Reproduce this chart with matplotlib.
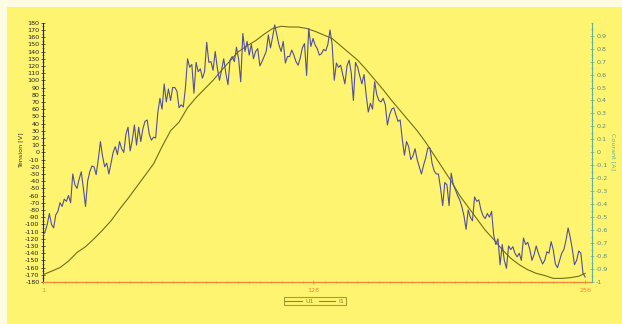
import numpy as np
import matplotlib
matplotlib.use("Agg")
import matplotlib.pyplot as plt
from matplotlib.patches import Rectangle
from matplotlib.ticker import MultipleLocator, FixedLocator
from matplotlib.lines import Line2D

# --- data -----------------------------------------------------------------
# U1 : voltage [V], sampled every 4th point (sample index -> volts)
u1_index = [1, 5, 9, 13, 17, 21, 25, 29, 33, 37, 41, 45, 49, 53, 57, 61,
            65, 69, 73, 77, 81, 85, 89, 93, 97, 101, 105, 109, 113, 117, 121,
            125, 129, 133, 137, 141, 145, 149, 153, 157, 161, 165, 169, 173,
            177, 181, 185, 189, 193, 197, 201, 205, 209, 213, 217, 221, 225,
            229, 233, 237, 241, 245, 249, 253, 256]
u1_volts = [-170, -165, -160, -151, -139, -131, -120, -108, -95, -79, -64,
            -48, -32, -16, 8, 30, 42, 62, 76, 88, 100, 114, 127, 140, 148,
            155, 164, 172, 175, 174, 174, 172, 168, 163, 158, 148, 138, 128,
            115, 101, 87, 72, 58, 44, 30, 14, -4, -22, -40, -60, -76, -92,
            -108, -121, -135, -147, -156, -163, -168, -171, -175, -175, -174,
            -172, -168]

# I1 : current [A], one value per sample 1..256
i1_amps = [
    -0.639, -0.611, -0.556, -0.472, -0.556, -0.583, -0.483, -0.456, -0.389, -0.417,
    -0.361, -0.378, -0.333, -0.389, -0.167, -0.250, -0.278, -0.206, -0.150, -0.278,
    -0.417, -0.222, -0.150, -0.106, -0.111, -0.172, -0.056, 0.083, -0.028, -0.111,
    -0.083, -0.167, -0.083, 0.000, 0.044, -0.017, 0.083, 0.028, 0.000, 0.139,
    0.194, 0.011, 0.094, 0.211, 0.056, 0.194, 0.083, 0.183, 0.239, 0.250,
    0.139, 0.094, 0.117, 0.111, 0.306, 0.417, 0.333, 0.528, 0.389, 0.489,
    0.400, 0.500, 0.500, 0.472, 0.344, 0.367, 0.350, 0.500, 0.722, 0.656,
    0.678, 0.456, 0.694, 0.622, 0.644, 0.572, 0.622, 0.850, 0.694, 0.700,
    0.633, 0.778, 0.650, 0.556, 0.633, 0.722, 0.611, 0.522, 0.711, 0.739,
    0.700, 0.811, 0.722, 0.544, 0.917, 0.778, 0.856, 0.750, 0.833, 0.722,
    0.778, 0.800, 0.667, 0.700, 0.739, 0.778, 0.906, 0.806, 0.889, 0.983,
    0.906, 0.828, 0.778, 0.856, 0.689, 0.739, 0.739, 0.789, 0.750, 0.700,
    0.672, 0.728, 0.806, 0.839, 0.594, 0.956, 0.817, 0.878, 0.828, 0.800,
    0.750, 0.761, 0.794, 0.783, 0.833, 0.944, 0.833, 0.556, 0.689, 0.656,
    0.672, 0.600, 0.528, 0.667, 0.711, 0.611, 0.400, 0.694, 0.656, 0.589,
    0.528, 0.600, 0.444, 0.311, 0.378, 0.333, 0.544, 0.444, 0.400, 0.389,
    0.417, 0.367, 0.211, 0.289, 0.333, 0.344, 0.289, 0.239, 0.250, 0.100,
    -0.022, 0.083, 0.044, -0.056, -0.028, 0.028, -0.056, -0.111, -0.167, -0.100,
    -0.044, 0.033, 0.033, -0.083, -0.144, -0.167, -0.167, -0.278, -0.411, -0.233,
    -0.250, -0.411, -0.161, -0.250, -0.289, -0.333, -0.367, -0.417, -0.489, -0.594,
    -0.444, -0.500, -0.528, -0.344, -0.378, -0.367, -0.444, -0.489, -0.511, -0.472,
    -0.500, -0.456, -0.639, -0.711, -0.667, -0.867, -0.711, -0.833, -0.894, -0.722,
    -0.750, -0.728, -0.778, -0.806, -0.778, -0.833, -0.661, -0.711, -0.694, -0.750,
    -0.833, -0.789, -0.722, -0.778, -0.822, -0.861, -0.833, -0.767, -0.778, -0.689,
    -0.750, -0.861, -0.889, -0.833, -0.778, -0.750, -0.678, -0.583, -0.656, -0.750,
    -0.867, -0.833, -0.761, -0.778, -0.933, -0.961,
]
i1_index = list(range(1, len(i1_amps) + 1))

x_tick_values = [1, 128, 256]
volt_ticks = list(range(-180, 181, 10))
amp_ticks = [round(-1 + 0.1 * k, 1) for k in range(20)]

# --- styling --------------------------------------------------------------
PANEL = "#fff46f"
OUTER = "#fdfbe2"
U_COLOR = "#6e6e1e"
I_COLOR = "#50509c"
X_COLOR = "#f0893a"
R_COLOR = "#5fb39e"
FS = 4.6

W, H = 622, 324
fig = plt.figure(figsize=(W / 100, H / 100), dpi=100, facecolor=OUTER)
fig.patches.append(Rectangle((7 / W, 0), 1 - 7 / W, 1 - 7 / H,
                             transform=fig.transFigure, facecolor=PANEL,
                             edgecolor="none", zorder=-10))

left, right, top, bottom = 43, 592, 22.7, 282
ax = fig.add_axes([left / W, 1 - bottom / H, (right - left) / W, (bottom - top) / H])
ax.set_facecolor("none")
ax2 = ax.twinx()
ax2.set_facecolor("none")

# lines
ax.plot(u1_index, u1_volts, color=U_COLOR, lw=0.8, label="U1", zorder=3)
ax2.plot(i1_index, i1_amps, color=I_COLOR, lw=0.8, label="I1", zorder=3)

x_max = 1 + (right - left) / 2.126
ax.set_xlim(1, x_max)
ax.set_ylim(-180, 180)
ax2.set_ylim(-1, 1)

# left axis
ax.set_yticks(volt_ticks)
ax.set_yticklabels([str(v) for v in volt_ticks])
ax.yaxis.set_minor_locator(MultipleLocator(5))
ax.tick_params(axis="y", which="major", direction="inout", length=3, width=0.5,
               labelsize=FS, colors="#222222", pad=1)
ax.tick_params(axis="y", which="minor", direction="inout", length=1.6, width=0.4,
               colors="#222222")
ax.spines["left"].set_color("#222222")
ax.spines["left"].set_linewidth(0.8)
ax.spines["top"].set_visible(False)
ax.spines["right"].set_visible(False)

# bottom axis
ax.set_xticks(x_tick_values)
ax.set_xticklabels([str(v) for v in x_tick_values])
ax.xaxis.set_minor_locator(FixedLocator(np.linspace(1, 256, 51)))
ax.tick_params(axis="x", which="major", direction="inout", length=3, width=0.5,
               labelsize=FS, colors=X_COLOR, pad=3)
ax.tick_params(axis="x", which="minor", direction="inout", length=1.8, width=0.4,
               colors=X_COLOR)
ax.spines["bottom"].set_color(X_COLOR)
ax.spines["bottom"].set_linewidth(1.0)

# right axis
for s in ["left", "top", "bottom"]:
    ax2.spines[s].set_visible(False)
ax2.spines["right"].set_color(R_COLOR)
ax2.spines["right"].set_linewidth(0.8)
ax2.set_yticks(amp_ticks)
ax2.set_yticklabels([("%g" % v) for v in amp_ticks])
ax2.yaxis.set_minor_locator(MultipleLocator(0.05))
ax2.tick_params(axis="y", which="major", direction="inout", length=3, width=0.5,
                labelsize=FS, colors=R_COLOR, labelcolor="#5c8c80", pad=1.5)
ax2.tick_params(axis="y", which="minor", direction="inout", length=1.6, width=0.4,
                colors=R_COLOR)

# axis titles
fig.text(21 / W, 1 - 150 / H, "Tension [V]", rotation=90, ha="center", va="center",
         fontsize=FS, color="#333333")
fig.text(613 / W, 1 - 151 / H, "Courant [A]", rotation=270, ha="center", va="center",
         fontsize=FS, color=R_COLOR)

# legend
handles = [Line2D([], [], color="#8a8a2a", lw=0.8),
           Line2D([], [], color="#8a8a2a", lw=0.8)]
leg = fig.legend(handles, ["U1", "I1"], loc="center", ncol=2,
                 bbox_to_anchor=(315 / W, 1 - 301 / H), fontsize=FS,
                 frameon=True, fancybox=False, handlelength=2.6,
                 handletextpad=0.5, columnspacing=0.8, borderpad=0.25,
                 borderaxespad=0)
leg.get_frame().set_edgecolor("#8a8a2a")
leg.get_frame().set_facecolor("none")
leg.get_frame().set_linewidth(0.8)
for t in leg.get_texts():
    t.set_color("#8a8a2a")

fig.savefig("out.png", dpi=100, facecolor=fig.get_facecolor())
